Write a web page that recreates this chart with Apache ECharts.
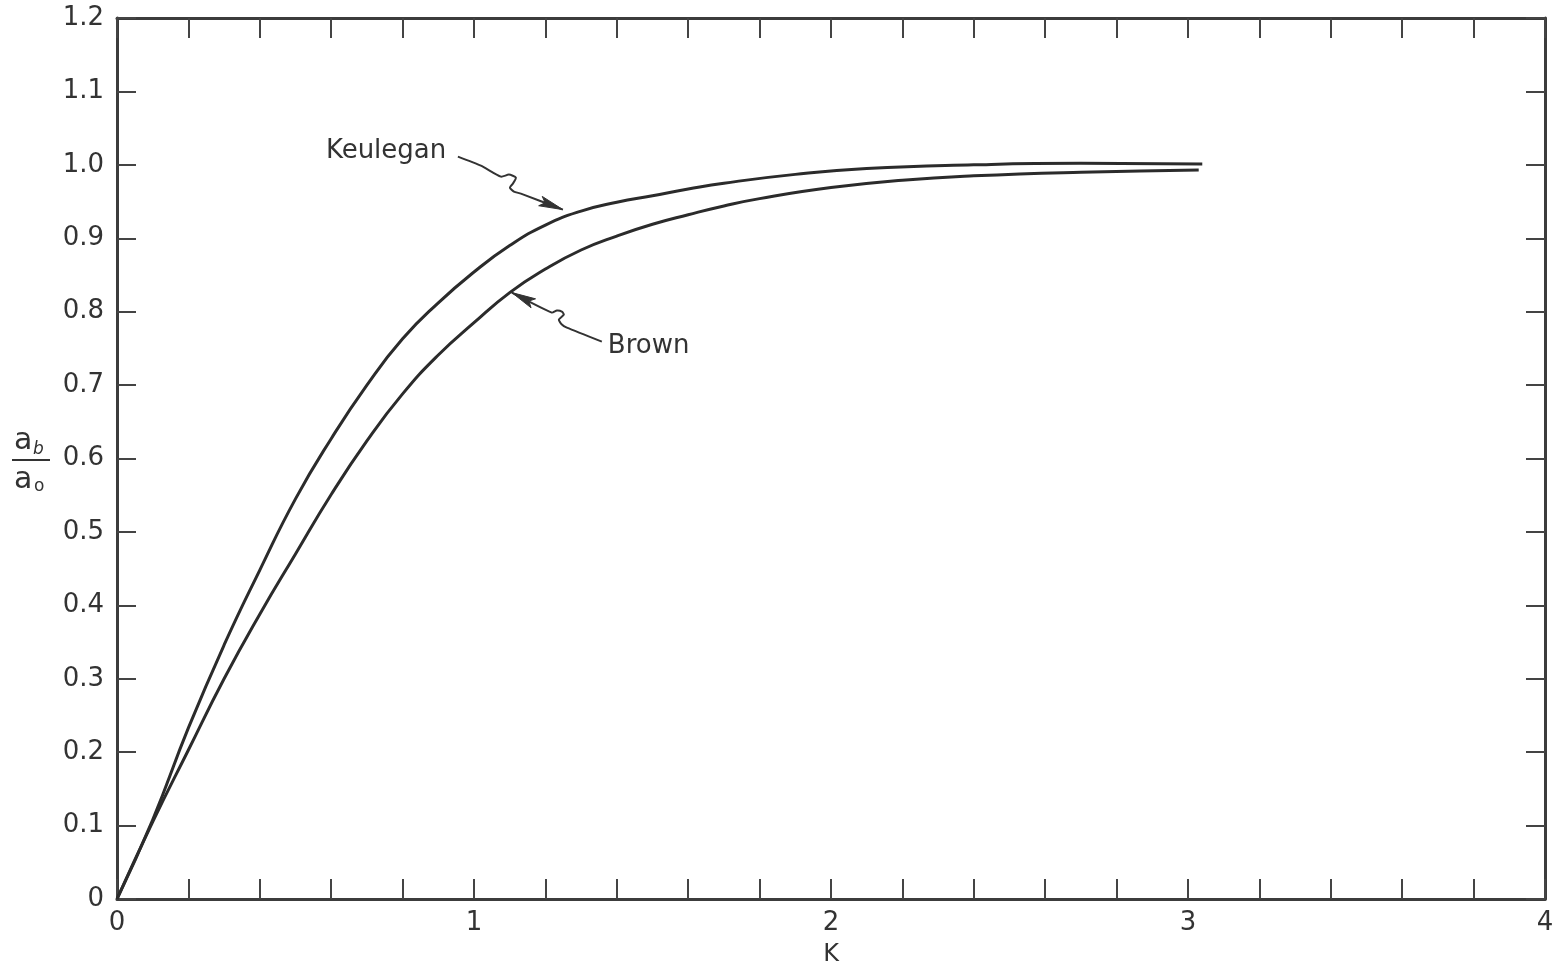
<!DOCTYPE html>
<html><head><meta charset="utf-8">
<script src="https://cdn.jsdelivr.net/npm/echarts@6/dist/echarts.min.js"></script>
<style>html,body{margin:0;padding:0;background:#fff}#c{width:1567px;height:972px}</style>
</head><body><div id="c"></div>
<script>
// Keulegan curve (upper)
const keuleganK = [0, 0.1, 0.2, 0.3, 0.4, 0.5, 0.6, 0.7, 0.8, 0.9, 1.0, 1.1, 1.2, 1.3, 1.4, 1.5, 1.6, 1.7, 1.9, 2.1, 2.4, 2.7, 3.04];
const keuleganY = [0, 0.108, 0.233, 0.346, 0.448, 0.545, 0.627, 0.700, 0.763, 0.812, 0.854, 0.890, 0.918, 0.937, 0.949, 0.958, 0.967, 0.975, 0.987, 0.995, 1.000, 1.002, 1.001];
// Brown curve (lower)
const brownK = [0, 0.1, 0.2, 0.3, 0.4, 0.5, 0.6, 0.7, 0.8, 0.9, 1.0, 1.1, 1.2, 1.3, 1.4, 1.5, 1.6, 1.7, 1.8, 2.0, 2.2, 2.4, 2.7, 3.03];
const brownY = [0, 0.105, 0.203, 0.300, 0.388, 0.470, 0.551, 0.624, 0.688, 0.741, 0.785, 0.826, 0.858, 0.884, 0.903, 0.919, 0.932, 0.944, 0.954, 0.969, 0.979, 0.985, 0.990, 0.993];
const xTickLabels = ['0', '1', '2', '3', '4'];
const yTickLabels = ['0', '0.1', '0.2', '0.3', '0.4', '0.5', '0.6', '0.7', '0.8', '0.9', '1.0', '1.1', '1.2'];
const seriesNames = ['Keulegan', 'Brown'];
const annotationTips = [[1.249, 0.939], [1.106, 0.826]];

const INK = '#333';
const FONT = 'DejaVu Sans';
const axisLineStyle = { color: '#3c3c3c', width: 3 };
const tickStyle = { color: '#444', width: 2 };

const chart = echarts.init(document.getElementById('c'), null, { renderer: 'canvas' });

function xAxisCfg(pos, showLabel) {
  return {
    type: 'value', position: pos, min: 0, max: 4, interval: 1,
    axisLine: { show: true, onZero: false, lineStyle: axisLineStyle },
    axisTick: { show: true, inside: true, length: 20, lineStyle: tickStyle },
    minorTick: { show: true, splitNumber: 5, length: 20, lineStyle: tickStyle },
    splitLine: { show: false },
    axisLabel: showLabel ? {
      show: true, margin: 11, color: INK, fontFamily: FONT, fontSize: 26,
      formatter: v => xTickLabels[Math.round(v)]
    } : { show: false },
    name: showLabel ? 'K' : '', nameLocation: 'middle', nameGap: 44,
    nameTextStyle: { color: INK, fontFamily: FONT, fontSize: 24 }
  };
}
function yAxisCfg(pos, showLabel) {
  return {
    type: 'value', position: pos, min: 0, max: 1.2, interval: 0.1,
    axisLine: { show: true, onZero: false, lineStyle: axisLineStyle },
    axisTick: { show: true, inside: true, length: 19, lineStyle: tickStyle },
    splitLine: { show: false },
    axisLabel: showLabel ? {
      show: true, margin: 13, color: INK, fontFamily: FONT, fontSize: 26,
      formatter: v => yTickLabels[Math.round(v * 10)]
    } : { show: false }
  };
}

const option = {
  backgroundColor: '#fff',
  animation: false,
  grid: { left: 117, right: 22, top: 18, bottom: 72, containLabel: false },
  xAxis: [xAxisCfg('bottom', true), xAxisCfg('top', false)],
  yAxis: [yAxisCfg('left', true), yAxisCfg('right', false)],
  series: [
    {
      name: seriesNames[0], type: 'line', smooth: 0.5, symbol: 'none',
      lineStyle: { color: '#2b2b2b', width: 3 },
      data: keuleganK.map((k, i) => [k, keuleganY[i]])
    },
    {
      name: seriesNames[1], type: 'line', smooth: 0.5, symbol: 'none',
      lineStyle: { color: '#2b2b2b', width: 3 },
      data: brownK.map((k, i) => [k, brownY[i]])
    }
  ]
};
chart.setOption(option);

// annotation leader geometry (pixel offsets relative to arrow tip)
const leaderPaths = [
  [[-105, -53], [-82, -44], [-62, -33], [-54, -35], [-47, -32], [-50, -26], [-53, -22], [-49, -18], [-42, -16], [0, 0]],
  [[90, 49], [55, 35], [50, 32], [47, 27], [52, 22], [50, 19], [45, 18], [40, 20], [0, 0]]
];
const labelOffsets = [[-237, -58], [96, 54]];

function arrowHead(tip, from) {
  const dx = tip[0] - from[0], dy = tip[1] - from[1];
  const L = Math.sqrt(dx * dx + dy * dy);
  const ux = dx / L, uy = dy / L;
  const len = 24, w = 5;
  const bx = tip[0] - ux * len, by = tip[1] - uy * len;
  return [[tip[0], tip[1]], [bx - uy * w, by + ux * w], [bx + ux * 5, by + uy * 5], [bx + uy * w, by - ux * w]];
}

const graphics = [];
annotationTips.forEach((t, i) => {
  const p = chart.convertToPixel({ gridIndex: 0 }, t);
  const pts = leaderPaths[i].map(o => [p[0] + o[0], p[1] + o[1]]);
  graphics.push({
    type: 'polyline', silent: true,
    shape: { points: pts, smooth: 0.2 },
    style: { stroke: '#333', lineWidth: 2, fill: null }
  });
  const prev = pts[pts.length - 2];
  graphics.push({
    type: 'polygon', silent: true,
    shape: { points: arrowHead(pts[pts.length - 1], prev) },
    style: { fill: '#333', stroke: '#333', lineWidth: 1 }
  });
  graphics.push({
    type: 'text', silent: true,
    x: p[0] + labelOffsets[i][0], y: p[1] + labelOffsets[i][1],
    style: {
      text: seriesNames[i], fill: INK, font: '26px "DejaVu Sans"',
      verticalAlign: 'middle', align: 'left'
    }
  });
});
// y-axis name: a_b / a_o
graphics.push(
  { type: 'text', silent: true, x: 14, y: 426, style: { text: 'a', fill: INK, font: '30px "DejaVu Sans"' } },
  { type: 'text', silent: true, x: 33, y: 441, style: { text: 'b', fill: INK, font: 'italic 17px "DejaVu Sans"' } },
  { type: 'line', silent: true, shape: { x1: 12, y1: 460, x2: 50, y2: 460 }, style: { stroke: '#333', lineWidth: 2 } },
  { type: 'text', silent: true, x: 14, y: 465, style: { text: 'a', fill: INK, font: '30px "DejaVu Sans"' } },
  { type: 'text', silent: true, x: 34, y: 478, style: { text: 'o', fill: INK, font: '17px "DejaVu Sans"' } }
);
chart.setOption({ graphic: graphics });
</script>
</body></html>
